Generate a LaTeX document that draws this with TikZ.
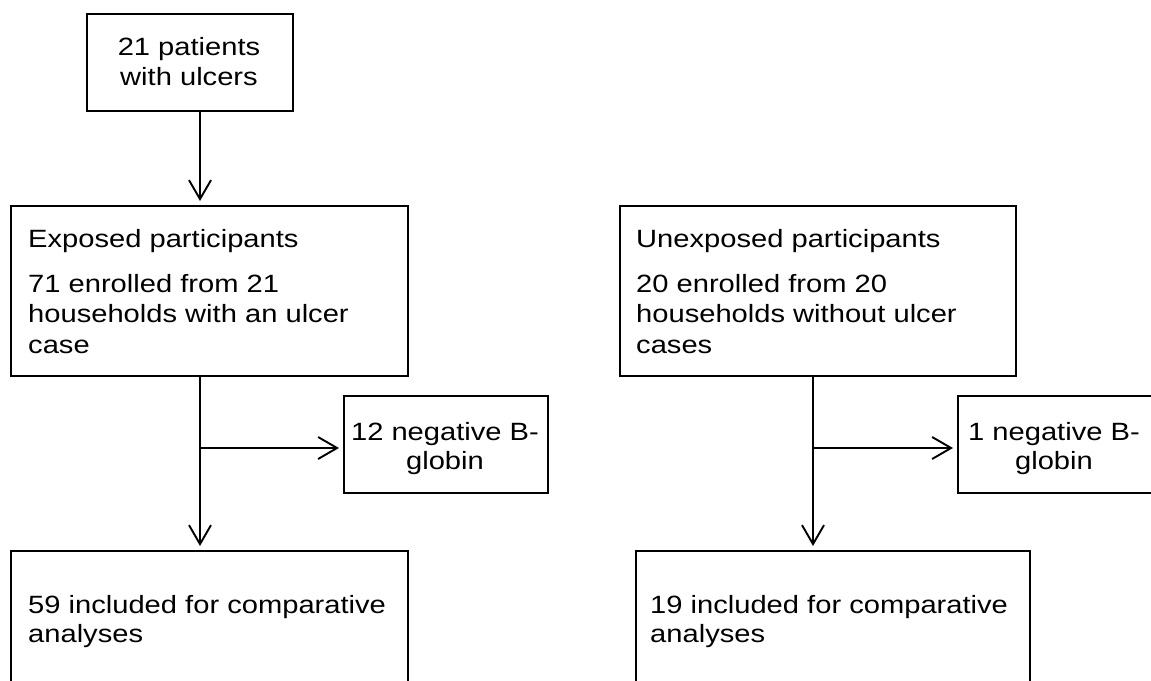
\documentclass[tikz,border=0pt]{standalone}
\usepackage{fontspec}
\setmainfont{Liberation Sans}[FakeStretch=1.165]
\usetikzlibrary{arrows.meta}
\begin{document}
\begin{tikzpicture}[x=1pt,y=-1pt,
  box/.style={draw, line width=1.9pt, inner sep=0pt, anchor=north west},
  txt/.style={inner sep=0pt, font=\fontsize{25}{30}\selectfont},
  ln/.style={line width=1.9pt},
  arr/.style={line width=1.9pt, shorten >=4pt, -{Straight Barb[length=19pt,width=22pt,line width=1.9pt]}}]
\useasboundingbox (0,0) rectangle (1151,680);
% boxes
\node[box, minimum width=206pt, minimum height=97pt] (b1) at (86,13) {};
\node[box, minimum width=397pt, minimum height=170pt] (b2) at (10,205) {};
\node[box, minimum width=204pt, minimum height=97pt] (b3) at (343,395) {};
\node[box, minimum width=397pt, minimum height=200pt] (b4) at (10,550) {};
\node[box, minimum width=396pt, minimum height=170pt] (b5) at (619,205) {};
\node[box, minimum width=220pt, minimum height=97pt] (b6) at (957,395) {};
\node[box, minimum width=394pt, minimum height=200pt] (b7) at (635,550) {};
% texts
\node[txt, anchor=base] (t1a) at (189,55) {21 patients};
\node[txt, anchor=base] (t1b) at (189,85) {with ulcers};
\node[txt, anchor=base west] (t2a) at (28,247) {Exposed participants};
\node[txt, anchor=base west] (t2b) at (28,292) {71 enrolled from 21};
\node[txt, anchor=base west] (t2c) at (28,322) {households with an ulcer};
\node[txt, anchor=base west] (t2d) at (28,353) {case};
\node[txt, anchor=base] (t3a) at (445,440) {12 negative B-};
\node[txt, anchor=base] (t3b) at (445,469) {globin};
\node[txt, anchor=base west] (t4a) at (28,613) {59 included for comparative};
\node[txt, anchor=base west] (t4b) at (28,642) {analyses};
\node[txt, anchor=base west] (t5a) at (636,247) {Unexposed participants};
\node[txt, anchor=base west] (t5b) at (636,292) {20 enrolled from 20};
\node[txt, anchor=base west] (t5c) at (636,322) {households without ulcer};
\node[txt, anchor=base west] (t5d) at (636,353) {cases};
\node[txt, anchor=base] (t6a) at (1054,440) {1 negative B-};
\node[txt, anchor=base] (t6b) at (1054,469) {globin};
\node[txt, anchor=base west] (t7a) at (650,613) {19 included for comparative};
\node[txt, anchor=base west] (t7b) at (650,642) {analyses};
% connectors
\coordinate (sL) at (200,448);
\coordinate (sR) at (813,448);
\draw[arr] (b1.south -| sL) -- (b2.north -| sL);
\draw[arr] (b2.south -| sL) -- (b4.north -| sL);
\draw[arr] (sL) -- (b3.west |- sL);
\draw[arr] (b5.south -| sR) -- (b7.north -| sR);
\draw[arr] (sR) -- (b6.west |- sR);
\end{tikzpicture}
\end{document}
